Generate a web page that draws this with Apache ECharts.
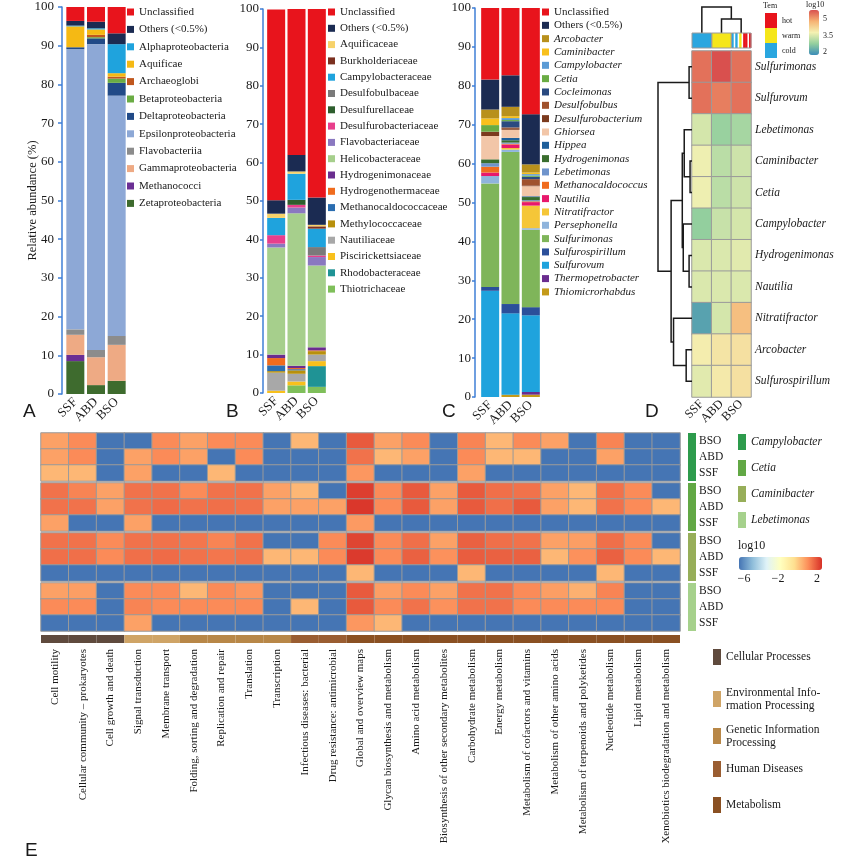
<!DOCTYPE html>
<html><head><meta charset="utf-8">
<script src="https://cdn.jsdelivr.net/npm/echarts@6/dist/echarts.min.js"></script>
<style>html,body{margin:0;padding:0;background:#fff}#c{width:846px;height:867px}</style>
</head><body><div id="c"></div>
<script>
// ---------------- DATA ----------------
const samples = ['SSF','ABD','BSO'];

// Panel A (class)
const classNames = ['Unclassified','Others (<0.5%)','Alphaproteobacteria','Aquificae','Archaeoglobi','Betaproteobacteria','Deltaproteobacteria','Epsilonproteobacteria','Flavobacteriia','Gammaproteobacteria','Methanococci','Zetaproteobacteria'];
const classSSF = [3.6,1.2,0.2,5.4,0,0,0.5,72.4,1.4,5.2,1.6,8.5];
const classABD = [3.8,1.7,0.3,1.4,0.6,0.3,1.5,79.0,1.9,7.2,0,2.3];
const classBSO = [6.8,2.8,7.5,0.9,0.5,1.1,3.3,62.1,2.3,9.3,0,3.4];

// Panel B (family)
const familyNames = ['Unclassified','Others (<0.5%)','Aquificaceae','Burkholderiaceae','Campylobacteraceae','Desulfobulbaceae','Desulfurellaceae','Desulfurobacteriaceae','Flavobacteriaceae','Helicobacteraceae','Hydrogenimonaceae','Hydrogenothermaceae','Methanocaldococcaceae','Methylococcaceae','Nautiliaceae','Piscirickettsiaceae','Rhodobacteraceae','Thiotrichaceae'];
const familySSF = [49.7,3.5,1.1,0,4.5,0,0,2.2,1.0,27.9,0.9,1.9,1.5,0.4,4.7,0.6,0,0];
const familyABD = [38.0,4.3,0.6,0,6.8,0,1.3,0.7,1.5,39.7,0.6,0.3,0.3,0.9,2.0,1.0,0,2.0];
const familyBSO = [49.3,7.1,0.4,0.6,4.8,2.2,0,0.4,2.2,21.3,0.8,0.2,0,0.9,1.7,1.3,5.4,1.6];

// Panel C (genus)
const genusNames = ['Unclassified','Others (<0.5%)','Arcobacter','Caminibacter','Campylobacter','Cetia','Cocleimonas','Desulfobulbus','Desulfurobacterium','Ghiorsea','Hippea','Hydrogenimonas','Lebetimonas','Methanocaldococcus','Nautilia','Nitratifractor','Persephonella','Sulfurimonas','Sulfurospirillum','Sulfurovum','Thermopetrobacter','Thiomicrorhabdus'];
const genusSSF = [18.4,7.7,2.3,1.7,0,1.7,0,0,1.1,6.0,0,1.0,0.9,1.5,0.9,0,1.9,26.6,1.0,27.3,0,0];
const genusABD = [17.3,8.1,2.4,0.5,0.5,0.3,1.6,0.2,0.4,2.1,0.6,0.6,0.3,0.2,0.9,0.4,0.6,39.1,2.4,20.9,0,0.6];
const genusBSO = [27.3,12.9,2.1,0.4,0.4,0.3,0.6,1.6,0.2,2.6,0.2,0.8,0.3,0.2,0.9,5.8,0.4,19.9,2.1,19.7,0.7,0.6];

// Panel D (log10 abundance heatmap)
const heatGenera = ['Sulfurimonas','Sulfurovum','Lebetimonas','Caminibacter','Cetia','Campylobacter','Hydrogenimonas','Nautilia','Nitratifractor','Arcobacter','Sulfurospirillum'];
const log10SSF = [4.75,4.75,3.25,3.45,3.45,2.75,3.3,3.3,2.25,3.55,3.35];
const log10ABD = [5.0,4.65,2.8,3.05,3.05,3.15,3.3,3.3,3.25,3.65,3.6];
const log10BSO = [4.75,4.75,2.9,3.2,3.2,3.25,3.35,3.3,4.1,3.7,3.7];
// hclust-style merges: [childA, childB, height]; negative = leaf (1-based display order)
const rowMerge = [[-1,-2,3],[-4,-5,2],[-7,-8,3],[-3,2,8],[-6,3,9],[4,5,10],[-10,-11,6],[-9,7,19],[6,8,21.5],[1,9,35]];
const colMerge = [[-2,-3,14],[-1,1,26]];
const temClasses = ['hot','warm','cold'];
const temSSF = ['cold'];
const temABD = ['warm'];
const temBSO = ['cold','none','cold','none','warm','none','hot','hot','none','hot'];

// Panel E (KEGG pathway heatmap, log10)
const pathways = ['Cell motility','Cellular community – prokaryotes','Cell growth and death','Signal transduction','Membrane transport','Folding, sorting and degradation','Replication and repair','Translation','Transcription','Infectious diseases: bacterial','Drug resistance: antimicrobial','Global and overview maps','Glycan biosynthesis and metabolism','Amino acid metabolism','Biosynthesis of other secondary metabolites','Carbohydrate metabolism','Energy metabolism','Metabolism of cofactors and vitamins','Metabolism of other amino acids','Metabolism of terpenoids and polyketides','Nucleotide metabolism','Lipid metabolism','Xenobiotics biodegradation and metabolism'];
const pathwayLevel1 = ['Cellular Processes','Cellular Processes','Cellular Processes','Environmental Information Processing','Environmental Information Processing','Genetic Information Processing','Genetic Information Processing','Genetic Information Processing','Genetic Information Processing','Human Diseases','Human Diseases','Metabolism','Metabolism','Metabolism','Metabolism','Metabolism','Metabolism','Metabolism','Metabolism','Metabolism','Metabolism','Metabolism','Metabolism'];
const level1Names = ['Cellular Processes','Environmental Information Processing','Genetic Information Processing','Human Diseases','Metabolism'];
const groupNames = ['Campylobacter','Cetia','Caminibacter','Lebetimonas'];
const rowSamples = ['BSO','ABD','SSF'];
const koCampylobacter = [
  [0.35,0.7,-6,-6,0.7,0.35,0.7,0.7,-6,0,-6,1.4,0.35,0.7,-6,0.8,0,0.7,0.35,-6,0.8,-6,-6],
  [0.35,0.7,-6,0.35,0.7,0.35,-6,0.7,-6,-6,-6,1.05,0,0.35,-6,0.7,0,0,-6,-6,0.35,-6,-6],
  [0,0,-6,0.35,-6,-6,0,-6,-6,-6,-6,0.5,-6,-6,-6,0.35,-6,-6,-6,-6,-6,-6,-6]];
const koCetia = [
  [1.05,0.8,0.35,1.05,1.05,0.7,1.05,1.05,0.35,0,-6,1.8,0.7,1.4,0.35,1.4,1.1,1.05,0.35,0,1.05,0.7,-6],
  [1.05,1.05,0.35,1.05,1.15,1.05,1.1,1.05,0.35,0.35,0.35,1.9,0.7,1.4,0.35,1.4,1.1,1.4,0.35,0,1.05,0.7,0],
  [0.35,-6,-6,0.35,-6,-6,-6,-6,-6,-6,-6,0.45,-6,-6,-6,-6,-6,-6,-6,-6,-6,-6,-6]];
const koCaminibacter = [
  [1.05,1.05,0.7,1.05,1.05,1.0,0.8,1.05,-6,-6,0.7,1.7,0.7,1.1,0.35,1.3,1.1,1.05,0.35,0.4,1.1,0.7,-6],
  [1.1,1.1,0.7,1.1,1.15,1.05,1.0,1.05,0,0,0.7,1.85,0.7,1.3,0.6,1.35,1.3,1.3,0,0.6,1.3,0.7,0],
  [-6,-6,-6,-6,-6,-6,-6,-6,-6,-6,-6,0,-6,-6,-6,0,-6,-6,-6,-6,0,-6,-6]];
const koLebetimonas = [
  [0.35,0.4,-6,0.7,0.7,0,0.7,0.5,-6,-6,-6,1.4,0.4,0.7,0.35,1.05,1.05,0.7,0.4,0.1,0.8,-6,-6],
  [0.7,0.7,-6,0.8,0.7,0.7,0.7,0.7,-6,0,-6,1.4,0.7,1.05,0.6,1.05,1.05,0.7,0.7,0.7,0.7,-6,-6],
  [-6,-6,-6,0.35,-6,-6,-6,-6,-6,-6,-6,0.5,0,-6,-6,-6,-6,-6,-6,-6,-6,-6,-6]];
const koGroups = [koCampylobacter, koCetia, koCaminibacter, koLebetimonas];

// ---------------- STYLE ----------------
const F = '"Liberation Serif","Times New Roman",serif';
const SANS = '"Liberation Sans",Arial,sans-serif';
const INK = '#1a1a1a';
const AXBLUE = '#3f7fd6';
const classColors = ['#e8141c','#1b2b52','#1fa3dd','#f5b914','#c0571e','#6aac44','#214a87','#8da8d6','#8c8c8c','#eeaa84','#6b2f94','#3e6b2e'];
const familyColors = ['#e8141c','#1b2b52','#f7d26a','#7b3020','#1fa3dd','#7a7a7a','#2e5e2e','#e83e8c','#8a78c0','#a6cf8c','#6a2d8f','#f06c1e','#2a6db0','#b8900c','#a8a8a8','#f8c01c','#1f9395','#7fbf5a'];
const genusColors = ['#e8141c','#1b2b52','#b8901c','#f8c01c','#5b9bd5','#6aac44','#2a4a80','#a0522d','#7b3a1e','#f2c6a8','#1f5f9a','#3a6e2e','#6f94cc','#f06c1e','#e8186c','#f5c638','#8fb4dc','#7fb55a','#2b4f9a','#1fa3dd','#6a2d8f','#c49a1a'];
const temColors = {hot:'#e8141c', warm:'#f5e61a', cold:'#2aa6df'};
const groupColors = ['#2d9b4c','#62a845','#97ae59','#a6d18c'];
const level1Colors = ['#5f4a3d','#cfa466','#b88747','#9a5d31','#8a5022'];
const dPalette = ['#3a8cb8','#93cf9e','#f4f1b2','#f6b273','#d9504e'];
const ePalette = ['#4575b4','#91bfdb','#e0f3f8','#ffffbf','#fee090','#fc8d59','#d73027'];

// ---------------- BUILD ----------------
const grids=[], xAxes=[], yAxes=[], series=[], legends=[], graphics=[];
const addGrid = g => (grids.push(g), grids.length-1);
const addX = a => (xAxes.push(a), xAxes.length-1);
const addY = a => (yAxes.push(a), yAxes.length-1);
const hide = {axisLine:{show:false}, axisTick:{show:false}, splitLine:{show:false}};

function stackPanel(key, grid, names, ssf, abd, bso, colors, yo) {
  const gi = addGrid(grid);
  const xi = addX(Object.assign({type:'category', gridIndex:gi, data:samples,
    axisLabel:{rotate:45, margin:6, interval:0, fontFamily:F, fontSize:13, color:INK}}, hide));
  const yi = addY(Object.assign({type:'value', gridIndex:gi, min:0, max:100, interval:10, offset:yo.offset,
    axisLine:{show:true, lineStyle:{color:AXBLUE, width:1.5}},
    axisTick:{show:true, length:yo.tick, lineStyle:{color:AXBLUE, width:1.5}},
    axisLabel:{margin:yo.margin, fontFamily:F, fontSize:13, color:INK},
    splitLine:{show:false}}, yo.extra || {}));
  for (let i = names.length-1; i >= 0; i--) {
    series.push({type:'bar', name:names[i], xAxisIndex:xi, yAxisIndex:yi, stack:key, barWidth:18,
      data:[ssf[i], abd[i], bso[i]], itemStyle:{color:colors[i]}});
  }
}
stackPanel('A', {left:65, top:7, width:62, height:387}, classNames, classSSF, classABD, classBSO, classColors,
  {offset:3, tick:4, margin:8, extra:{name:'Relative abundance (%)', nameLocation:'middle', nameGap:23, nameMoveOverlap:false,
   nameTextStyle:{fontFamily:F, fontSize:12.5, color:INK}}});
stackPanel('B', {left:266, top:9, width:61, height:384}, familyNames, familySSF, familyABD, familyBSO, familyColors,
  {offset:3, tick:3, margin:4});
stackPanel('C', {left:480, top:8, width:61, height:389}, genusNames, genusSSF, genusABD, genusBSO, genusColors,
  {offset:5, tick:3, margin:4});

const legBase = {orient:'vertical', icon:'rect', itemWidth:7, itemHeight:7, padding:0, selectedMode:false};
legends.push(Object.assign({}, legBase, {data:classNames, left:127, top:5, itemGap:3.4,
  textStyle:{fontFamily:F, fontSize:11, color:INK, lineHeight:14}}));
legends.push(Object.assign({}, legBase, {data:familyNames, left:328, top:5, itemGap:2.3,
  textStyle:{fontFamily:F, fontSize:11, color:INK, lineHeight:14}}));
legends.push(Object.assign({}, legBase, {data:genusNames, left:542, top:5.5, itemGap:0.33,
  formatter: n => (n === 'Unclassified' || n.indexOf('Others') === 0) ? n : '{i|' + n + '}',
  textStyle:{fontFamily:F, fontSize:11, color:INK, lineHeight:13,
    rich:{i:{fontFamily:F, fontSize:11, fontStyle:'italic', color:INK, lineHeight:13}}}}));

// ----- Panel D -----
function dendroSegments(merge) {
  const pos = [], hgt = [], segs = [];
  merge.forEach(([a, b, h]) => {
    const pa = a < 0 ? -a-1 : pos[a-1], ha = a < 0 ? 0 : hgt[a-1];
    const pb = b < 0 ? -b-1 : pos[b-1], hb = b < 0 ? 0 : hgt[b-1];
    pos.push((pa+pb)/2); hgt.push(h); segs.push([pa, ha, pb, hb, h]);
  });
  return segs;
}
const gHeat = addGrid({left:692, top:51, width:59, height:346});
const xHeat = addX(Object.assign({type:'category', gridIndex:gHeat, data:samples,
  axisLabel:{rotate:45, margin:5, interval:0, fontFamily:F, fontSize:12.5, color:INK}}, hide));
const yHeat = addY(Object.assign({type:'category', gridIndex:gHeat, data:heatGenera, inverse:true, position:'right',
  axisLabel:{margin:4, interval:0, fontFamily:F, fontSize:11.5, fontStyle:'italic', color:INK}}, hide));
const dHeatData = [];
heatGenera.forEach((g, r) => { dHeatData.push([0, r, log10SSF[r]], [1, r, log10ABD[r]], [2, r, log10BSO[r]]); });
const dHeatIdx = series.length;
series.push({type:'heatmap', name:'log10 genus', xAxisIndex:xHeat, yAxisIndex:yHeat, data:dHeatData,
  itemStyle:{borderColor:'#9a9a9a', borderWidth:1}});

// row dendrogram
const gRD = addGrid({left:658, top:51, width:34, height:346});
const xRD = addX(Object.assign({type:'value', gridIndex:gRD, min:0, max:35, inverse:true, show:false}, hide));
const yRD = addY(Object.assign({type:'value', gridIndex:gRD, min:-0.5, max:heatGenera.length-0.5, inverse:true, show:false}, hide));
series.push({type:'custom', name:'row dendrogram', xAxisIndex:xRD, yAxisIndex:yRD, silent:true,
  data:dendroSegments(rowMerge),
  renderItem:(p, api) => {
    const pa=api.value(0), ha=api.value(1), pb=api.value(2), hb=api.value(3), h=api.value(4);
    return {type:'polyline', shape:{points:[api.coord([ha,pa]), api.coord([h,pa]), api.coord([h,pb]), api.coord([hb,pb])]},
      style:{stroke:'#1a1a1a', lineWidth:1.5, fill:null}};
  }});
// column dendrogram
const gCD = addGrid({left:692, top:7, width:59, height:26});
const xCD = addX(Object.assign({type:'value', gridIndex:gCD, min:-0.5, max:2.5, show:false}, hide));
const yCD = addY(Object.assign({type:'value', gridIndex:gCD, min:0, max:26, show:false}, hide));
series.push({type:'custom', name:'col dendrogram', xAxisIndex:xCD, yAxisIndex:yCD, silent:true,
  data:dendroSegments(colMerge),
  renderItem:(p, api) => {
    const pa=api.value(0), ha=api.value(1), pb=api.value(2), hb=api.value(3), h=api.value(4);
    return {type:'polyline', shape:{points:[api.coord([pa,ha]), api.coord([pa,h]), api.coord([pb,h]), api.coord([pb,hb])]},
      style:{stroke:'#1a1a1a', lineWidth:1.5, fill:null}};
  }});
// Tem annotation
const gTA = addGrid({left:692, top:33, width:59, height:15});
const xTA = addX(Object.assign({type:'category', gridIndex:gTA, data:samples, show:false}, hide));
const yTA = addY(Object.assign({type:'value', gridIndex:gTA, min:0, max:1, show:false}, hide));
const temBySample = [temSSF, temABD, temBSO];
temClasses.forEach(c => {
  const d = [];
  temBySample.forEach((arr, s) => arr.forEach((v, k) => { if (v === c) d.push([s, k, arr.length]); }));
  series.push({type:'custom', name:c, xAxisIndex:xTA, yAxisIndex:yTA, itemStyle:{color:temColors[c]}, data:d,
    renderItem:(p, api) => {
      const s=api.value(0), k=api.value(1), n=api.value(2);
      const b = api.coord([s, 0]), t = api.coord([s, 1]), w = api.size([1, 0])[0];
      return {type:'rect', shape:{x:b[0]-w/2+k*w/n, y:t[1], width:w/n+0.4, height:b[1]-t[1]},
        style:{fill:api.visual('color')}};
    }});
});
series.push({type:'custom', name:'tem frame', xAxisIndex:xTA, yAxisIndex:yTA, silent:true, data:[[0],[1],[2]],
  renderItem:(p, api) => {
    const b = api.coord([api.value(0), 0]), t = api.coord([api.value(0), 1]), w = api.size([1, 0])[0];
    return {type:'rect', shape:{x:b[0]-w/2, y:t[1], width:w, height:b[1]-t[1]},
      style:{fill:null, stroke:'#9a9a9a', lineWidth:1}};
  }});
legends.push({data:temClasses, left:765, top:13, orient:'vertical', icon:'rect', itemWidth:12, itemHeight:15, itemGap:0,
  padding:0, selectedMode:false, textStyle:{fontFamily:F, fontSize:8, color:INK}});

// ----- Panel E -----
const eHeatIdx = [];
koGroups.forEach((grp, g) => {
  const gi = addGrid({left:41, top:433+50*g, width:639, height:48});
  const xi = addX(Object.assign({type:'category', gridIndex:gi, data:pathways, axisLabel:{show:false}}, hide));
  const yi = addY(Object.assign({type:'category', gridIndex:gi, data:['SSF','ABD','BSO'], position:'right', offset:17,
    axisLabel:{margin:2, interval:0, fontFamily:F, fontSize:11.5, color:INK}}, hide));
  const d = [];
  grp.forEach((row, r) => { const yIdx = 2 - r; row.forEach((v, c) => d.push([c, yIdx, v])); });
  eHeatIdx.push(series.length);
  series.push({type:'heatmap', name:'KEGG ' + groupNames[g], xAxisIndex:xi, yAxisIndex:yi, data:d,
    itemStyle:{borderColor:'#9a9a9a', borderWidth:1}});
});
// level-1 category bar
const gCat = addGrid({left:41, top:635, width:639, height:8});
const xCat = addX(Object.assign({type:'category', gridIndex:gCat, data:pathways,
  axisLabel:{rotate:90, margin:6, interval:0, fontFamily:F, fontSize:11, color:INK}}, hide));
const yCat = addY(Object.assign({type:'value', gridIndex:gCat, min:0, max:1, show:false}, hide));
level1Names.forEach((n, i) => {
  series.push({type:'bar', name:n, xAxisIndex:xCat, yAxisIndex:yCat, stack:'lvl1', barCategoryGap:'0%',
    data:pathwayLevel1.map(c => c === n ? 1 : '-'), itemStyle:{color:level1Colors[i]}});
});
// genus group annotation
const gGA = addGrid({left:688, top:433, width:8, height:200});
const xGA = addX(Object.assign({type:'category', gridIndex:gGA, data:['group'], show:false}, hide));
const yGA = addY(Object.assign({type:'value', gridIndex:gGA, min:0, max:groupNames.length, inverse:true, show:false}, hide));
groupNames.forEach((n, g) => {
  series.push({type:'custom', name:n, xAxisIndex:xGA, yAxisIndex:yGA, itemStyle:{color:groupColors[g]}, data:[[0, g]],
    renderItem:(p, api) => {
      const a = api.coord([0, api.value(1)]), b = api.coord([0, api.value(1)+1]), w = api.size([1, 0])[0];
      return {type:'rect', shape:{x:a[0]-w/2, y:a[1], width:w, height:b[1]-a[1]-2}, style:{fill:api.visual('color')}};
    }});
});
legends.push({data:groupNames.map((n, g) => ({name:n, itemStyle:{color:groupColors[g]}})), left:738, top:434,
  orient:'vertical', icon:'rect', itemWidth:8, itemHeight:16, itemGap:10, padding:0, selectedMode:false,
  textStyle:{fontFamily:F, fontSize:11.5, fontStyle:'italic', color:INK}});
const lvlLabel = {'Environmental Information Processing':'Environmental Info-\nrmation Processing',
  'Genetic Information Processing':'Genetic Information\nProcessing'};
const lvlTops = [649, 686, 723, 761, 797];
level1Names.forEach((n, i) => {
  legends.push({data:[n], left:713, top:lvlTops[i], orient:'vertical', icon:'rect', itemWidth:8, itemHeight:16,
    padding:0, selectedMode:false, formatter: x => lvlLabel[x] || x,
    textStyle:{fontFamily:F, fontSize:11.5, color:INK, lineHeight:13}});
});

// ----- texts -----
function txt(x, y, t, size, fam, align) {
  return {type:'text', x:x, y:y, silent:true,
    style:{text:t, fontSize:size, fontFamily:fam || F, fill:INK, textAlign:align || 'left', align:align || 'left',
      textVerticalAlign:'middle', verticalAlign:'middle'}};
}
graphics.push(txt(23, 412, 'A', 19, SANS), txt(226, 412, 'B', 19, SANS), txt(442, 412, 'C', 19, SANS),
  txt(645, 412, 'D', 19, SANS), txt(25, 851, 'E', 19, SANS));
graphics.push(txt(763, 6, 'Tem', 8), txt(806, 5, 'log10', 8), txt(823, 19, '5', 8), txt(823, 36, '3.5', 8), txt(823, 52, '2', 8));
graphics.push(txt(738, 546, 'log10', 12), txt(744, 579, '−6', 12, F, 'center'), txt(778, 579, '−2', 12, F, 'center'),
  txt(817, 579, '2', 12, F, 'center'));

const option = {
  animation:false,
  backgroundColor:'#ffffff',
  grid:grids, xAxis:xAxes, yAxis:yAxes, series:series, legend:legends,
  visualMap:[
    {type:'continuous', min:2, max:5, seriesIndex:[dHeatIdx], orient:'vertical', left:809, top:10,
      itemWidth:10, itemHeight:45, padding:0, calculable:false, hoverLink:false, inRange:{color:dPalette}},
    {type:'continuous', min:-6, max:2, seriesIndex:eHeatIdx, orient:'horizontal', left:739, top:557,
      itemWidth:13, itemHeight:83, padding:0, calculable:false, hoverLink:false, inRange:{color:ePalette}}
  ],
  graphic:graphics
};
const chart = echarts.init(document.getElementById('c'));
chart.setOption(option);
</script></body></html>
